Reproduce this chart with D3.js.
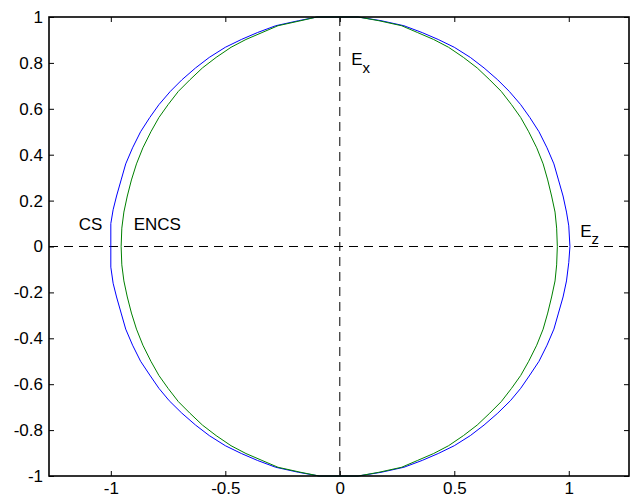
<!DOCTYPE html>
<html lang="en">
  <head>
    <meta charset="utf-8" />
    <title>CS / ENCS</title>
    <script src="https://cdn.jsdelivr.net/npm/d3@7"></script>
    <style>
      body { margin: 0; background: #fff; }
      svg { display: block; font-family: "Liberation Sans", Arial, sans-serif; }
      .axis text { font-size: 17px; fill: #000; }
      .axis line { stroke: #000; stroke-width: 1px; }
      .axis path { display: none; }
      .curve { fill: none; stroke-width: 1px; stroke-linejoin: round; }
      .guide { stroke: #000; stroke-width: 1px; stroke-dasharray: 9, 6; }
      .label { font-size: 17px; fill: #000; }
    </style>
  </head>
  <body>
    <script>
      let w = 634;
      let h = 498;
      let margin = { top: 17, right: 5, bottom: 22, left: 49 };

      let xTicks = [-1, -0.5, 0, 0.5, 1];
      let yTicks = [-1, -0.8, -0.6, -0.4, -0.2, 0, 0.2, 0.4, 0.6, 0.8, 1];

      // CS curve (blue), clockwise from the top
      let csPoints = [
        [0.08, 1.0], [0.18, 0.984], [0.28, 0.962], [0.36, 0.932], [0.43, 0.902],
        [0.5, 0.868], [0.57, 0.824], [0.63, 0.778], [0.69, 0.726], [0.74, 0.676],
        [0.79, 0.618], [0.83, 0.562], [0.87, 0.5], [0.905, 0.43], [0.935, 0.36],
        [0.955, 0.29], [0.975, 0.22], [0.99, 0.15], [1.0, 0.09], [1.005, 0.0],
        [1.0, -0.07], [0.99, -0.15], [0.975, -0.22], [0.955, -0.29], [0.935, -0.36],
        [0.905, -0.43], [0.87, -0.5], [0.83, -0.56], [0.79, -0.618], [0.745, -0.672],
        [0.69, -0.726], [0.63, -0.778], [0.57, -0.824], [0.5, -0.868], [0.43, -0.902],
        [0.36, -0.932], [0.28, -0.962], [0.18, -0.984], [0.08, -1.0], [-0.09, -1.0],
        [-0.18, -0.984], [-0.28, -0.962], [-0.36, -0.932], [-0.43, -0.902], [-0.5, -0.868],
        [-0.57, -0.824], [-0.63, -0.778], [-0.69, -0.726], [-0.745, -0.672], [-0.79, -0.618],
        [-0.83, -0.56], [-0.87, -0.5], [-0.905, -0.43], [-0.935, -0.36], [-0.955, -0.29],
        [-0.975, -0.22], [-0.99, -0.16], [-1.0, 0.1 - 0.19], [-1.0, 0.1], [-0.99, 0.16],
        [-0.975, 0.22], [-0.955, 0.29], [-0.935, 0.36], [-0.905, 0.43], [-0.87, 0.5],
        [-0.83, 0.562], [-0.79, 0.618], [-0.74, 0.676], [-0.69, 0.726], [-0.63, 0.778],
        [-0.57, 0.824], [-0.5, 0.868], [-0.43, 0.902], [-0.36, 0.932], [-0.28, 0.962],
        [-0.18, 0.984], [-0.1, 1.0]
      ];

      // ENCS curve (green)
      let encsPoints = [
        [0.08, 1.0], [0.17, 0.984], [0.27, 0.962], [0.34, 0.932], [0.41, 0.902],
        [0.475, 0.868], [0.54, 0.824], [0.6, 0.778], [0.655, 0.726], [0.705, 0.676],
        [0.75, 0.618], [0.79, 0.562], [0.825, 0.5], [0.86, 0.43], [0.888, 0.36],
        [0.908, 0.29], [0.925, 0.22], [0.94, 0.15], [0.947, 0.08], [0.95, 0.0],
        [0.947, -0.08], [0.94, -0.15], [0.925, -0.22], [0.908, -0.29], [0.888, -0.36],
        [0.86, -0.43], [0.825, -0.5], [0.79, -0.562], [0.75, -0.618], [0.705, -0.676],
        [0.655, -0.726], [0.6, -0.778], [0.54, -0.824], [0.475, -0.868], [0.41, -0.902],
        [0.34, -0.932], [0.27, -0.962], [0.17, -0.984], [0.08, -1.0], [-0.09, -1.0],
        [-0.17, -0.984], [-0.27, -0.962], [-0.34, -0.932], [-0.41, -0.902], [-0.475, -0.868],
        [-0.54, -0.824], [-0.6, -0.778], [-0.655, -0.726], [-0.705, -0.676], [-0.75, -0.618],
        [-0.79, -0.562], [-0.825, -0.5], [-0.86, -0.43], [-0.888, -0.36], [-0.91, -0.29],
        [-0.928, -0.22], [-0.943, -0.15], [-0.952, -0.08], [-0.955, 0.0], [-0.952, 0.08],
        [-0.943, 0.15], [-0.928, 0.22], [-0.91, 0.29], [-0.888, 0.36], [-0.86, 0.43],
        [-0.825, 0.5], [-0.79, 0.562], [-0.75, 0.618], [-0.705, 0.676], [-0.655, 0.726],
        [-0.6, 0.778], [-0.54, 0.824], [-0.475, 0.868], [-0.41, 0.902], [-0.34, 0.932],
        [-0.27, 0.962], [-0.17, 0.984], [-0.1, 1.0]
      ];

      let xDomain = [-1.27, 1.263];
      let yDomain = [-1, 1];

      let svg = d3
        .select("body")
        .append("svg")
        .attr("width", w)
        .attr("height", h);

      let x = d3.scaleLinear().domain(xDomain).range([margin.left, w - margin.right]);
      let y = d3.scaleLinear().domain(yDomain).range([h - margin.bottom, margin.top]);

      let fmt = (d) => String(d);

      svg.append("g")
        .attr("class", "axis")
        .attr("transform", `translate(0,${y(-1)})`)
        .call(d3.axisBottom(x).tickValues(xTicks).tickSize(-5).tickPadding(6).tickFormat(fmt));

      svg.append("g")
        .attr("class", "axis")
        .attr("transform", `translate(0,${y(1)})`)
        .call(d3.axisTop(x).tickValues(xTicks).tickSize(-5).tickFormat(""));

      svg.append("g")
        .attr("class", "axis")
        .attr("transform", `translate(${x(xDomain[0])},0)`)
        .call(d3.axisLeft(y).tickValues(yTicks).tickSize(-5).tickPadding(6).tickFormat(fmt));

      svg.append("g")
        .attr("class", "axis")
        .attr("transform", `translate(${x(xDomain[1])},0)`)
        .call(d3.axisRight(y).tickValues(yTicks).tickSize(-5).tickFormat(""));

      // dashed guides through the origin
      svg.append("line")
        .attr("class", "guide")
        .attr("x1", x(xDomain[0])).attr("x2", x(xDomain[1]))
        .attr("y1", y(0)).attr("y2", y(0));
      svg.append("line")
        .attr("class", "guide")
        .attr("x1", x(0)).attr("x2", x(0))
        .attr("y1", y(1)).attr("y2", y(-1));

      let line = d3.line()
        .x((d) => x(d[0]))
        .y((d) => y(d[1]))
        .curve(d3.curveLinearClosed);

      svg.append("path")
        .attr("class", "curve")
        .attr("stroke", "#0000ff")
        .attr("d", line(csPoints));

      svg.append("path")
        .attr("class", "curve")
        .attr("stroke", "#008000")
        .attr("d", line(encsPoints));

      // box
      svg.append("rect")
        .attr("x", x(xDomain[0]))
        .attr("y", y(1))
        .attr("width", x(xDomain[1]) - x(xDomain[0]))
        .attr("height", y(-1) - y(1))
        .attr("fill", "none")
        .attr("stroke", "#000")
        .attr("stroke-width", 1.6);

      // text labels
      svg.append("text").attr("class", "label")
        .attr("x", x(-1.14)).attr("y", y(0.073)).text("CS");
      svg.append("text").attr("class", "label")
        .attr("x", x(-0.9)).attr("y", y(0.073)).text("ENCS");

      let ex = svg.append("text").attr("class", "label")
        .attr("x", x(0.05)).attr("y", y(0.79));
      ex.append("tspan").text("E");
      ex.append("tspan").attr("dy", 8).attr("font-size", "15px").text("x");

      let ez = svg.append("text").attr("class", "label")
        .attr("x", x(1.05)).attr("y", y(0.043));
      ez.append("tspan").text("E");
      ez.append("tspan").attr("dy", 7).attr("font-size", "15px").text("z");
    </script>
  </body>
</html>
